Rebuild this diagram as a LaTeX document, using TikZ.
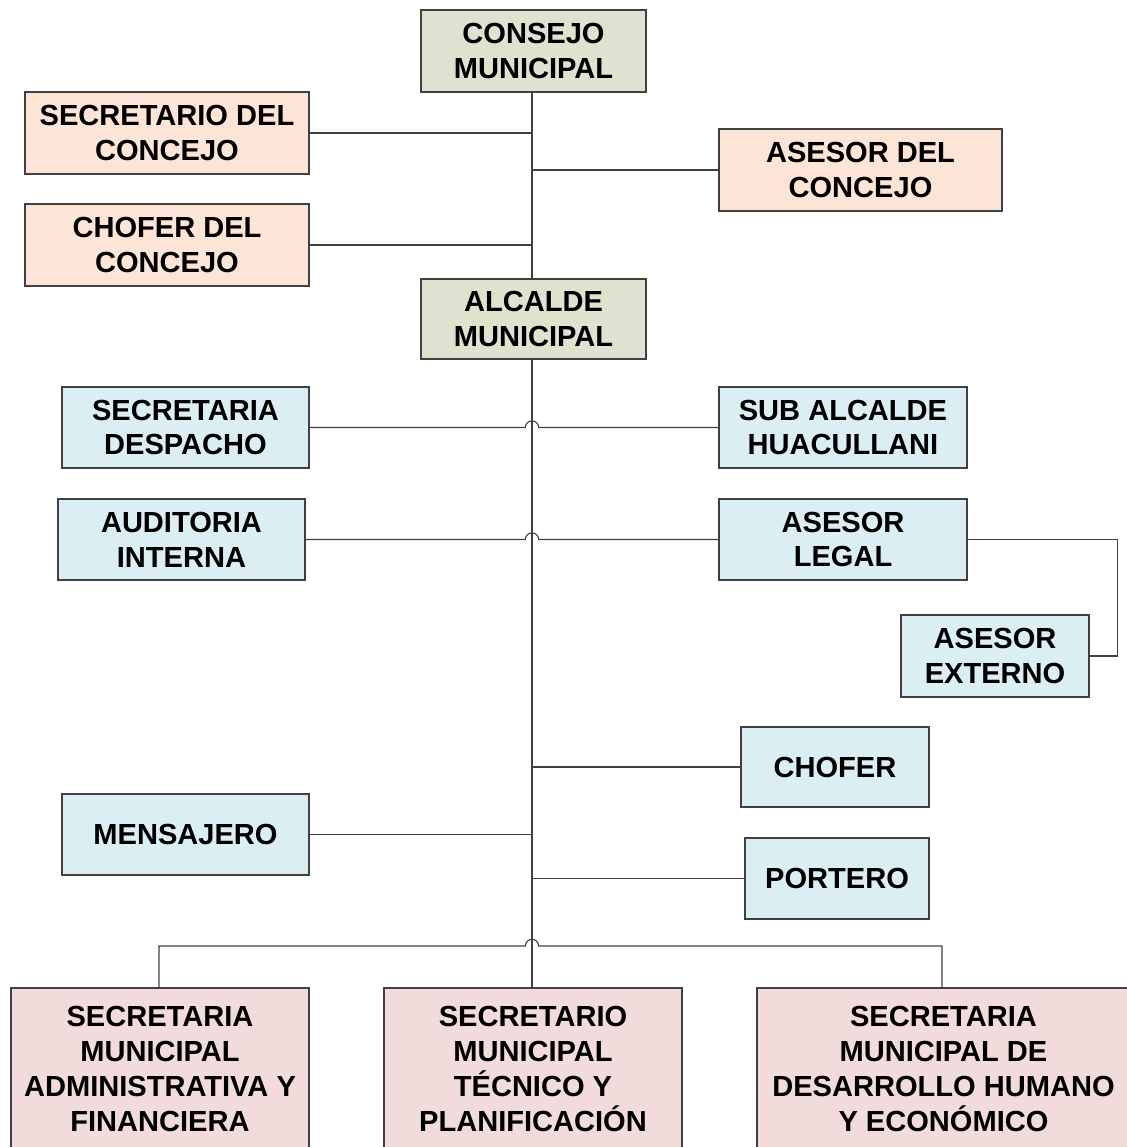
\documentclass[tikz,border=0pt]{standalone}
\usepackage{fontspec}
\setmainfont{Liberation Sans}
\begin{document}
\begin{tikzpicture}[x=0.75pt,y=0.75pt,
  box/.style={draw=black!75,line width=0.9pt,inner sep=0pt,align=center,
    font=\fontsize{21.8}{26.2}\selectfont\bfseries,text=black},
  green/.style={box,fill={rgb,255:red,221;green,227;blue,206}},
  peach/.style={box,fill={rgb,255:red,252;green,229;blue,214}},
  blue/.style={box,fill={rgb,255:red,218;green,238;blue,243}},
  pink/.style={box,fill={rgb,255:red,242;green,220;blue,219}},
  conn/.style={draw=black!75,line width=0.85pt}]
\useasboundingbox (0,0) rectangle (1127,-1147);
\newcommand\bx[7]{\node[#1,minimum width={(#5-#3)*0.75pt},minimum height={(#6-#4)*0.75pt}] (#2) at ({(#3+#5)/2},{-(#4+#6)/2}) {#7};}
\bx{green}{cons}{421}{10}{646}{92}{CONSEJO\\MUNICIPAL}
\bx{peach}{secc}{25}{92}{309}{174}{SECRETARIO DEL\\CONCEJO}
\bx{peach}{ases}{719}{129}{1002}{211}{ASESOR DEL\\CONCEJO}
\bx{peach}{chc}{25}{204}{309}{286}{CHOFER DEL\\CONCEJO}
\bx{green}{alc}{421}{279}{646}{359}{ALCALDE\\MUNICIPAL}
\bx{blue}{desp}{62}{387}{309}{468}{SECRETARIA\\DESPACHO}
\bx{blue}{sub}{719}{387}{967}{468}{SUB ALCALDE\\HUACULLANI}
\bx{blue}{aud}{58}{499}{305}{580}{AUDITORIA\\INTERNA}
\bx{blue}{leg}{719}{499}{967}{580}{ASESOR\\LEGAL}
\bx{blue}{ext}{901}{615}{1089}{697}{ASESOR\\EXTERNO}
\bx{blue}{chof}{741}{727}{929}{807}{CHOFER}
\bx{blue}{mens}{62}{794}{309}{875}{MENSAJERO}
\bx{blue}{port}{745}{838}{929}{919}{PORTERO}
\bx{pink}{sadm}{11}{988}{309}{1150}{SECRETARIA\\MUNICIPAL\\ADMINISTRATIVA Y\\FINANCIERA}
\bx{pink}{stec}{384}{988}{682}{1150}{SECRETARIO\\MUNICIPAL\\TÉCNICO Y\\PLANIFICACIÓN}
\bx{pink}{sdes}{757}{988}{1130}{1150}{SECRETARIA\\MUNICIPAL DE\\DESARROLLO HUMANO\\Y ECONÓMICO}
% spine
\coordinate (top) at (532,-92);
\coordinate (bot) at (532,-988);
\draw[conn] (top) -- (532,-279);
\draw[conn] (532,-359) -- (bot);
% upper branches
\draw[conn] (secc.east) -- (secc.east -| top);
\draw[conn] (ases.west) -- (ases.west -| top);
\draw[conn] (chc.east) -- (chc.east -| top);
% jumps
\draw[conn] (desp.east) -- ([xshift=-5pt]desp.east -| top) arc[start angle=180,end angle=0,radius=5pt] -- (sub.west);
\draw[conn] (aud.east) -- ([xshift=-5pt]aud.east -| top) arc[start angle=180,end angle=0,radius=5pt] -- (leg.west);
\draw[conn] (leg.east) -- ++(150,0) |- (ext.east);
\draw[conn] (chof.west) -- (chof.west -| top);
\draw[conn] (mens.east) -- (mens.east -| top);
\draw[conn] (port.west) -- (port.west -| top);
% bottom bus
\coordinate (busl) at (159,-946);
\coordinate (busr) at (942,-946);
\draw[conn] (busl |- sadm.north) -- (busl) -- ([xshift=-5pt]busl -| top) arc[start angle=180,end angle=0,radius=5pt] -- (busr) -- (busr |- sdes.north);
\end{tikzpicture}
\end{document}
